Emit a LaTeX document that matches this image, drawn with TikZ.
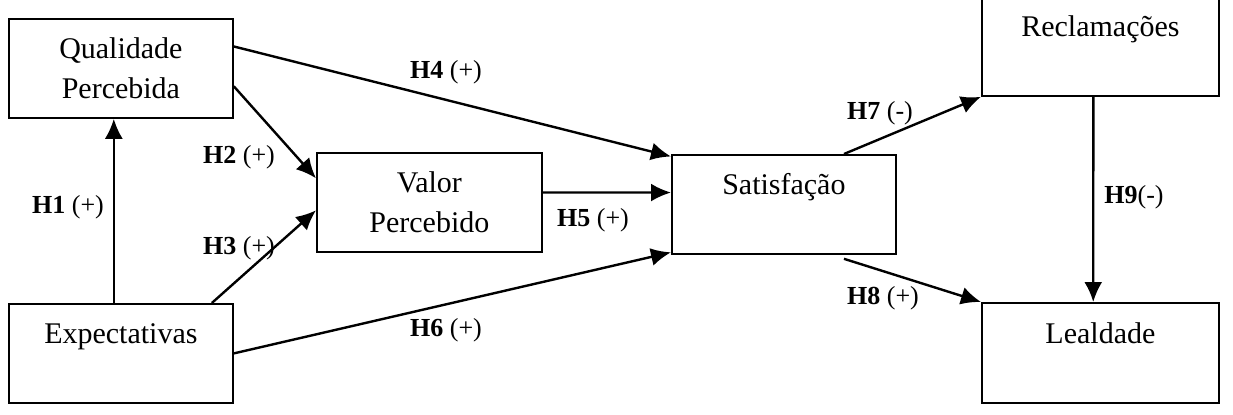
\documentclass[tikz,border=0pt]{standalone}
\usepackage{fontspec}
\setmainfont{Liberation Serif}
\usetikzlibrary{arrows.meta}

\tikzset{
  caixa/.style={draw, line width=0.9pt, anchor=north west, align=center, inner sep=0pt,
    minimum width=112pt, minimum height=49.5pt, font=\fontsize{15}{20}\selectfont},
  seta/.style={line width=1.2pt, -{Latex[length=10pt,width=9pt]}},
  hip/.style={font=\fontsize{13}{15}\selectfont, inner sep=0pt}
}

\begin{document}
\begin{tikzpicture}[x=0.5pt, y=-0.5pt]
        \useasboundingbox (0,0) rectangle (1233,414);

        % Construtos
        \node[caixa] (qual) at (8, 18) {Qualidade\\Percebida};
        \node[caixa] (expect) at (8, 303) {Expectativas\\~};
        \node[caixa, minimum width=112.5pt] (valor) at (316, 152) {Valor\\Percebido};
        \node[caixa] (satisf) at (671, 154) {Satisfação\\~};
        \node[caixa, minimum width=118.5pt] (recl) at (981, -4) {Reclamações\\~};
        \node[caixa, minimum width=118.5pt, minimum height=50pt] (leal) at (981, 302) {Lealdade\\~};

        % Hipóteses (setas)
        \draw[seta] (expect.98) -- (qual.262);
        \draw[seta] (qual.-9) -- (valor.168);
        \draw[seta] (expect.29) -- (valor.-176);
        \draw[seta] (qual.11) -- (satisf.157);
        \draw[seta] (valor.5) -- (satisf.174);
        \draw[seta] (expect.east) -- (satisf.-157);
        \draw[seta] (satisf.40) -- (recl.south west);
        \draw[seta] ([yshift=-2pt]satisf.-40) -- (leal.north west);
        \draw[seta] (recl.-98) -- (leal.98);

        % Rótulos
        \node[hip] (h1) at (68, 207) {\textbf{H1} (+)};
        \node[hip] (h2) at (239, 157) {\textbf{H2} (+)};
        \node[hip] (h3) at (239, 248) {\textbf{H3} (+)};
        \node[hip] (h4) at (446, 72) {\textbf{H4} (+)};
        \node[hip] (h5) at (593, 220) {\textbf{H5} (+)};
        \node[hip] (h6) at (446, 330) {\textbf{H6} (+)};
        \node[hip] (h7) at (880, 113) {\textbf{H7} (-)};
        \node[hip] (h8) at (883, 298) {\textbf{H8} (+)};
        \node[hip] (h9) at (1134, 197) {\textbf{H9}(-)};

    \end{tikzpicture}
\end{document}
